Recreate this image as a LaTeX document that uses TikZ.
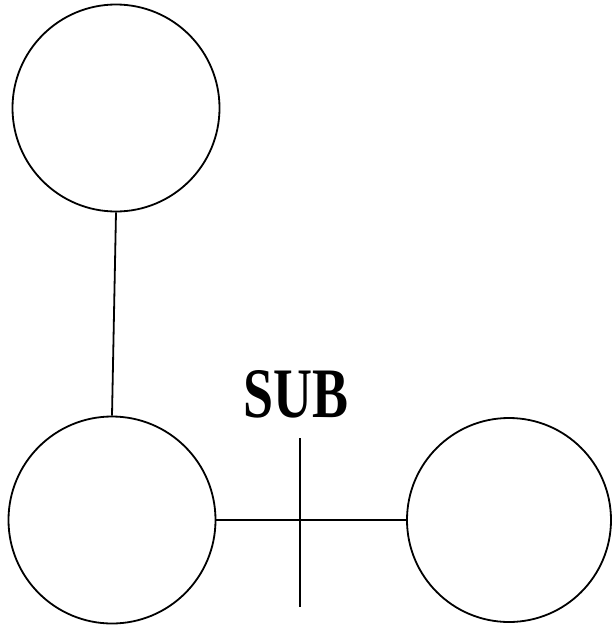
\documentclass[tikz,border=0pt]{standalone}
\usepackage{fontspec}
\setmainfont{Liberation Serif}
\begin{document}
\begin{tikzpicture}[x=1pt,y=-1pt,line width=1.8pt,
    bus/.style={draw,circle,inner sep=0pt,minimum size=207pt}]
    \useasboundingbox (0,0) rectangle (612,630);
    \node[bus] (top) at (116,108) {};
    \node[bus] (left) at (112,520) {};
    \node[bus,minimum size=204pt] (right) at (509,520) {};
    \draw (top.south) -- (left.north);
    \draw (left.east) -- (right.west);
    \coordinate (tickup) at (300,438);
    \coordinate (tickdown) at (300,607);
    \draw (tickup) -- (tickdown);
    \node[inner sep=0pt,xscale=0.76,font=\fontsize{71}{71}\selectfont\bfseries] (sub) at (296,394) {SUB};
  \end{tikzpicture}
\end{document}
